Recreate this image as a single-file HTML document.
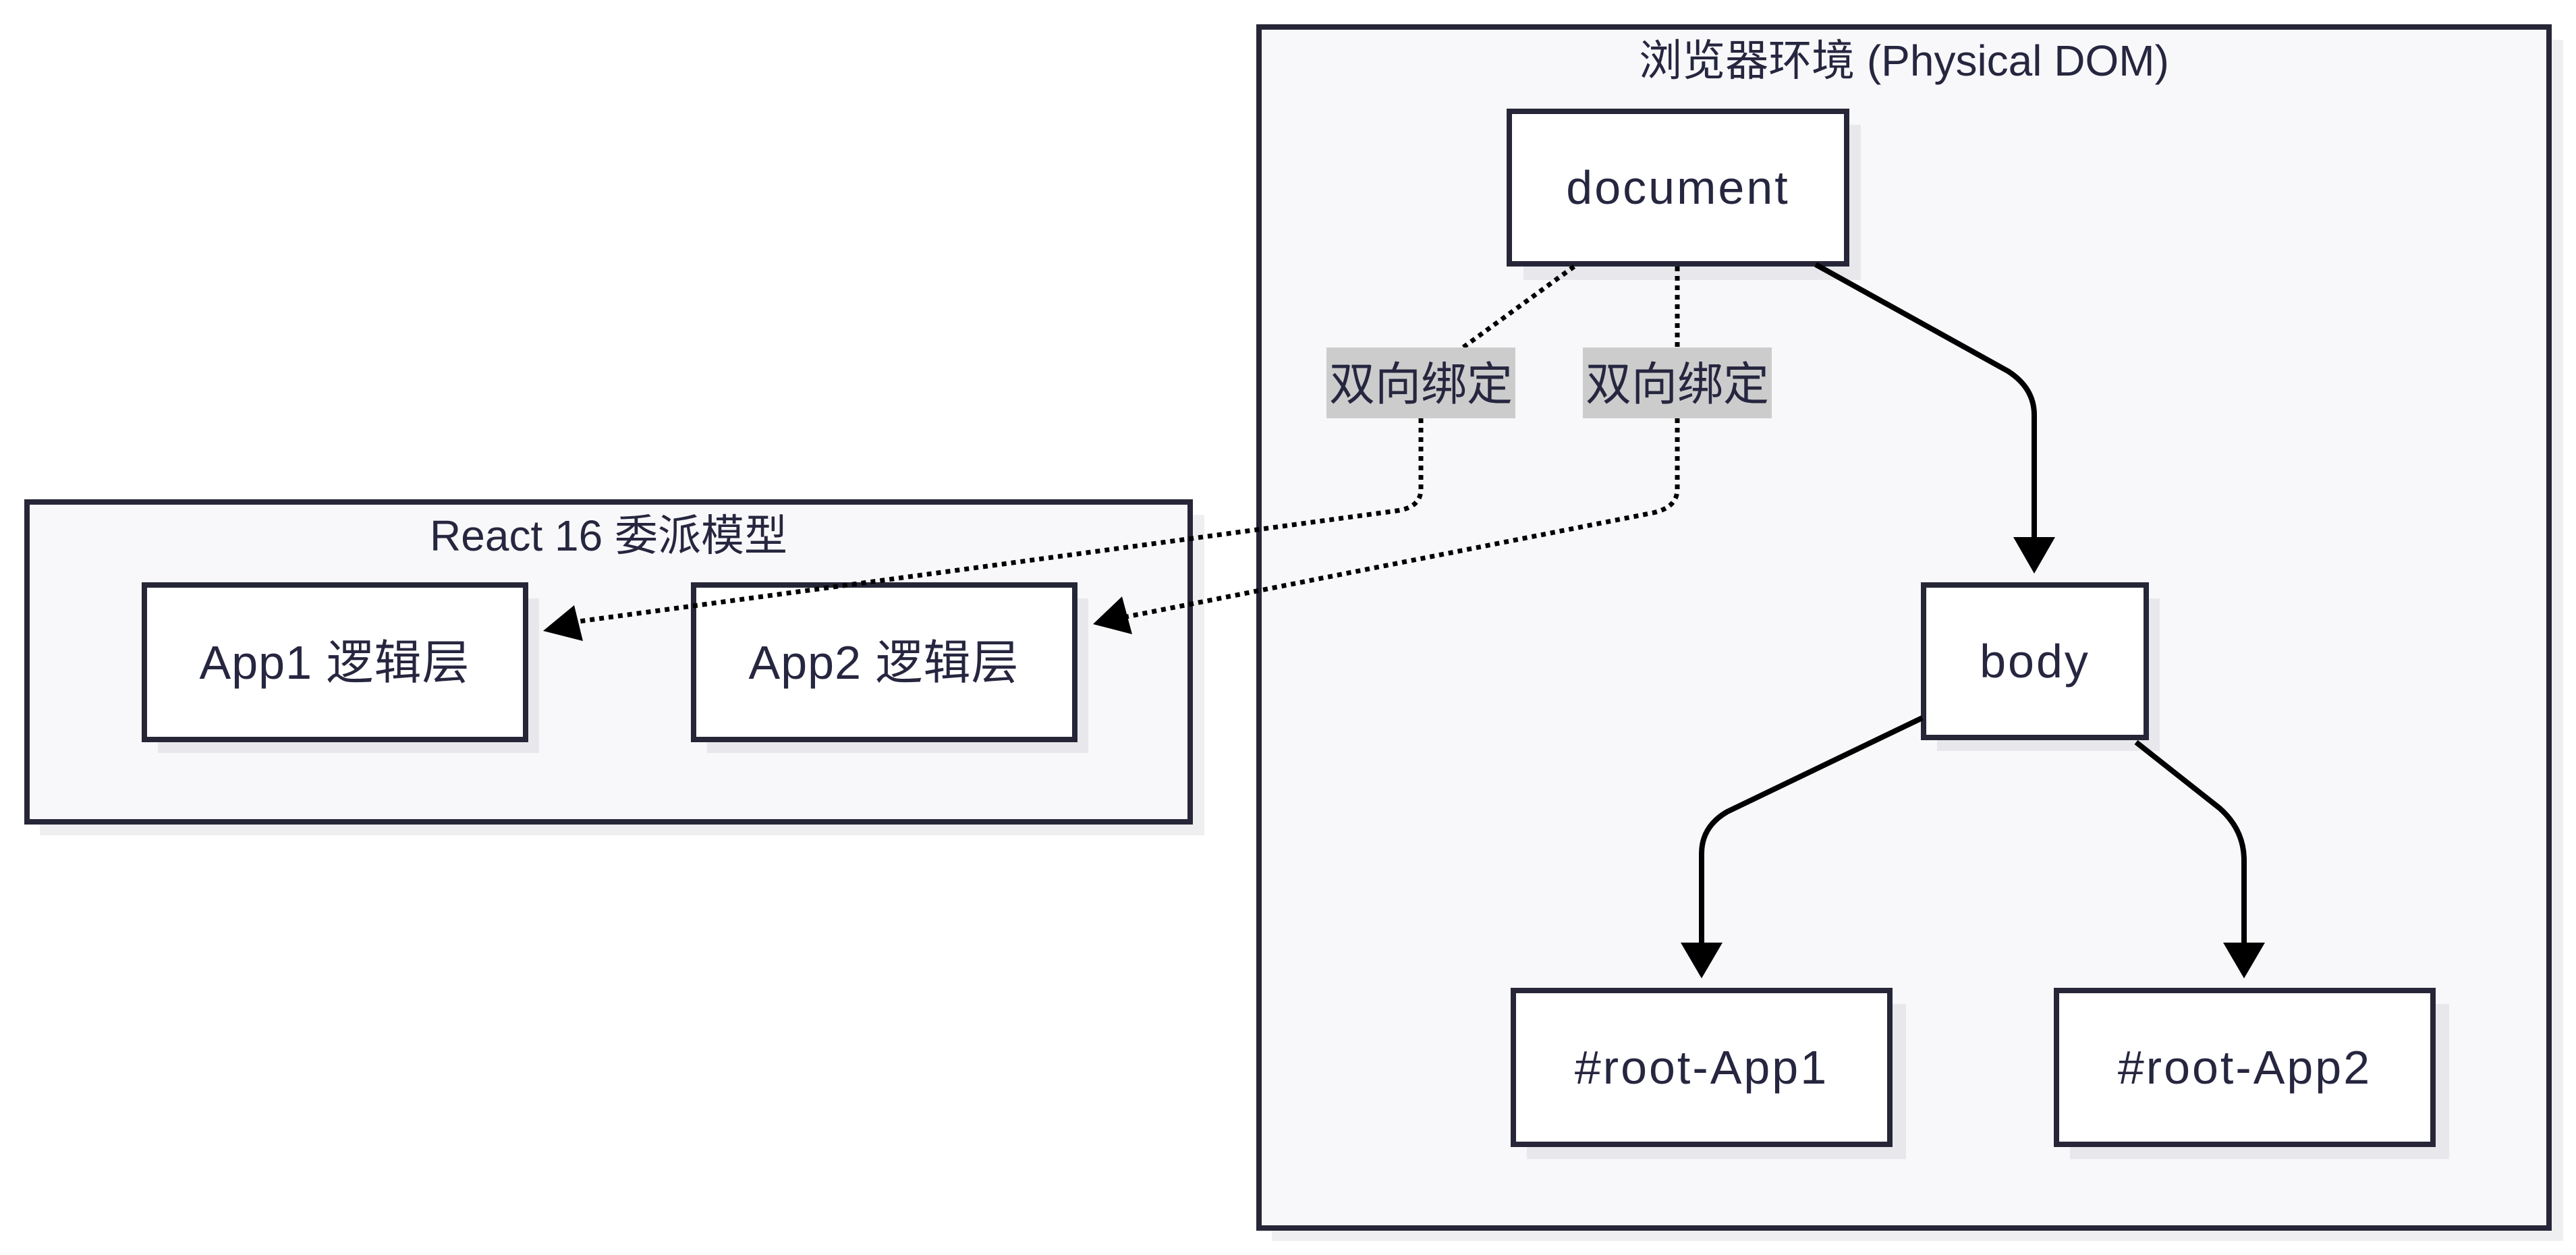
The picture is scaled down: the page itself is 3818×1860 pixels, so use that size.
<!DOCTYPE html>
<html><head><meta charset="utf-8"><style>
html,body{margin:0;padding:0;background:#fff;}
svg{display:block;}
text{font-family:"Liberation Sans","Noto Sans CJK SC",sans-serif;fill:#262640;}
</style></head><body>
<svg width="3818" height="1860" viewBox="0 0 3818 1860" xmlns="http://www.w3.org/2000/svg">
<defs>
<marker id="ah" viewBox="0 0 10 10" refX="10" refY="5" markerWidth="8" markerHeight="8" markerUnits="userSpaceOnUse" orient="auto">
</marker>
</defs>
<!-- cluster shadows -->
<rect x="1885" y="59" width="1914" height="1780" fill="#efeff1"/>
<rect x="59" y="763" width="1726" height="475" fill="#efeff1"/>
<!-- clusters -->
<rect x="1866" y="40" width="1912" height="1780" fill="#f8f8fa" stroke="#262638" stroke-width="8"/>
<rect x="40" y="744" width="1724" height="474" fill="#f8f8fa" stroke="#262638" stroke-width="8"/>
<text x="2822" y="112" font-size="64" text-anchor="middle">浏览器环境 (Physical DOM)</text>
<text x="902" y="816" font-size="64" text-anchor="middle">React 16 委派模型</text>

<!-- node shadows -->
<g fill="#e8e8ec">
<rect x="2258" y="185" width="500" height="230"/>
<rect x="2871" y="887" width="330" height="226"/>
<rect x="2263" y="1488" width="562" height="230"/>
<rect x="3068" y="1488" width="562" height="230"/>
<rect x="234" y="887" width="565" height="229"/>
<rect x="1048" y="887" width="565" height="229"/>
</g>
<!-- nodes -->
<g fill="#fff" stroke="#262638" stroke-width="8">
<rect x="2237" y="165" width="500" height="226"/>
<rect x="2851" y="867" width="330" height="226"/>
<rect x="2243" y="1468" width="558" height="228"/>
<rect x="3048" y="1468" width="558" height="228"/>
<rect x="214" y="867" width="565" height="229"/>
<rect x="1028" y="867" width="565" height="229"/>
</g>
<g font-size="70" text-anchor="middle" letter-spacing="3">
<text x="2487" y="302">document</text>
<text x="3016" y="1004">body</text>
<text x="2522" y="1606">#root-App1</text>
<text x="3327" y="1606">#root-App2</text>
<text x="496" y="1006" letter-spacing="1">App1 逻辑层</text>
<text x="1310" y="1006" letter-spacing="1">App2 逻辑层</text>
</g>

<!-- solid edges -->
<g fill="none" stroke="#000" stroke-width="8">
<path d="M2691 392 L2976 550 Q3015 575 3015 615 L3015 800"/>
<path d="M2849 1064 L2560 1203 Q2522 1225 2522 1265 L2522 1400"/>
<path d="M3166 1100 L3290 1198 Q3326 1230 3326 1275 L3326 1400"/>
</g>
<g fill="#000">
<polygon points="2984,796 3046,796 3015,850"/>
<polygon points="2491,1397 2553,1397 2522,1450"/>
<polygon points="3295,1397 3357,1397 3326,1450"/>
</g>

<!-- dotted edges -->
<g fill="none" stroke="#000" stroke-width="7" stroke-dasharray="7 7">
<path d="M2333 395 L2167 516"/>
<path d="M2106 620 L2106 725 Q2106 752 2070 757 L850 922"/>
<path d="M2486 395 L2486 516"/>
<path d="M2486 620 L2486 725 Q2486 752 2450 760 L1665 915"/>
</g>
<g fill="#000">
<polygon points="805,935 851,897 864,950"/>
<polygon points="1620,925 1663,884 1678,940"/>
</g>

<!-- edge labels -->
<rect x="1966" y="515" width="280" height="105" fill="#cccccc"/>
<rect x="2346" y="515" width="280" height="105" fill="#cccccc"/>
<text x="2106" y="593" font-size="68" text-anchor="middle" fill="#333">双向绑定</text>
<text x="2486" y="593" font-size="68" text-anchor="middle" fill="#333">双向绑定</text>
</svg>
</body></html>
